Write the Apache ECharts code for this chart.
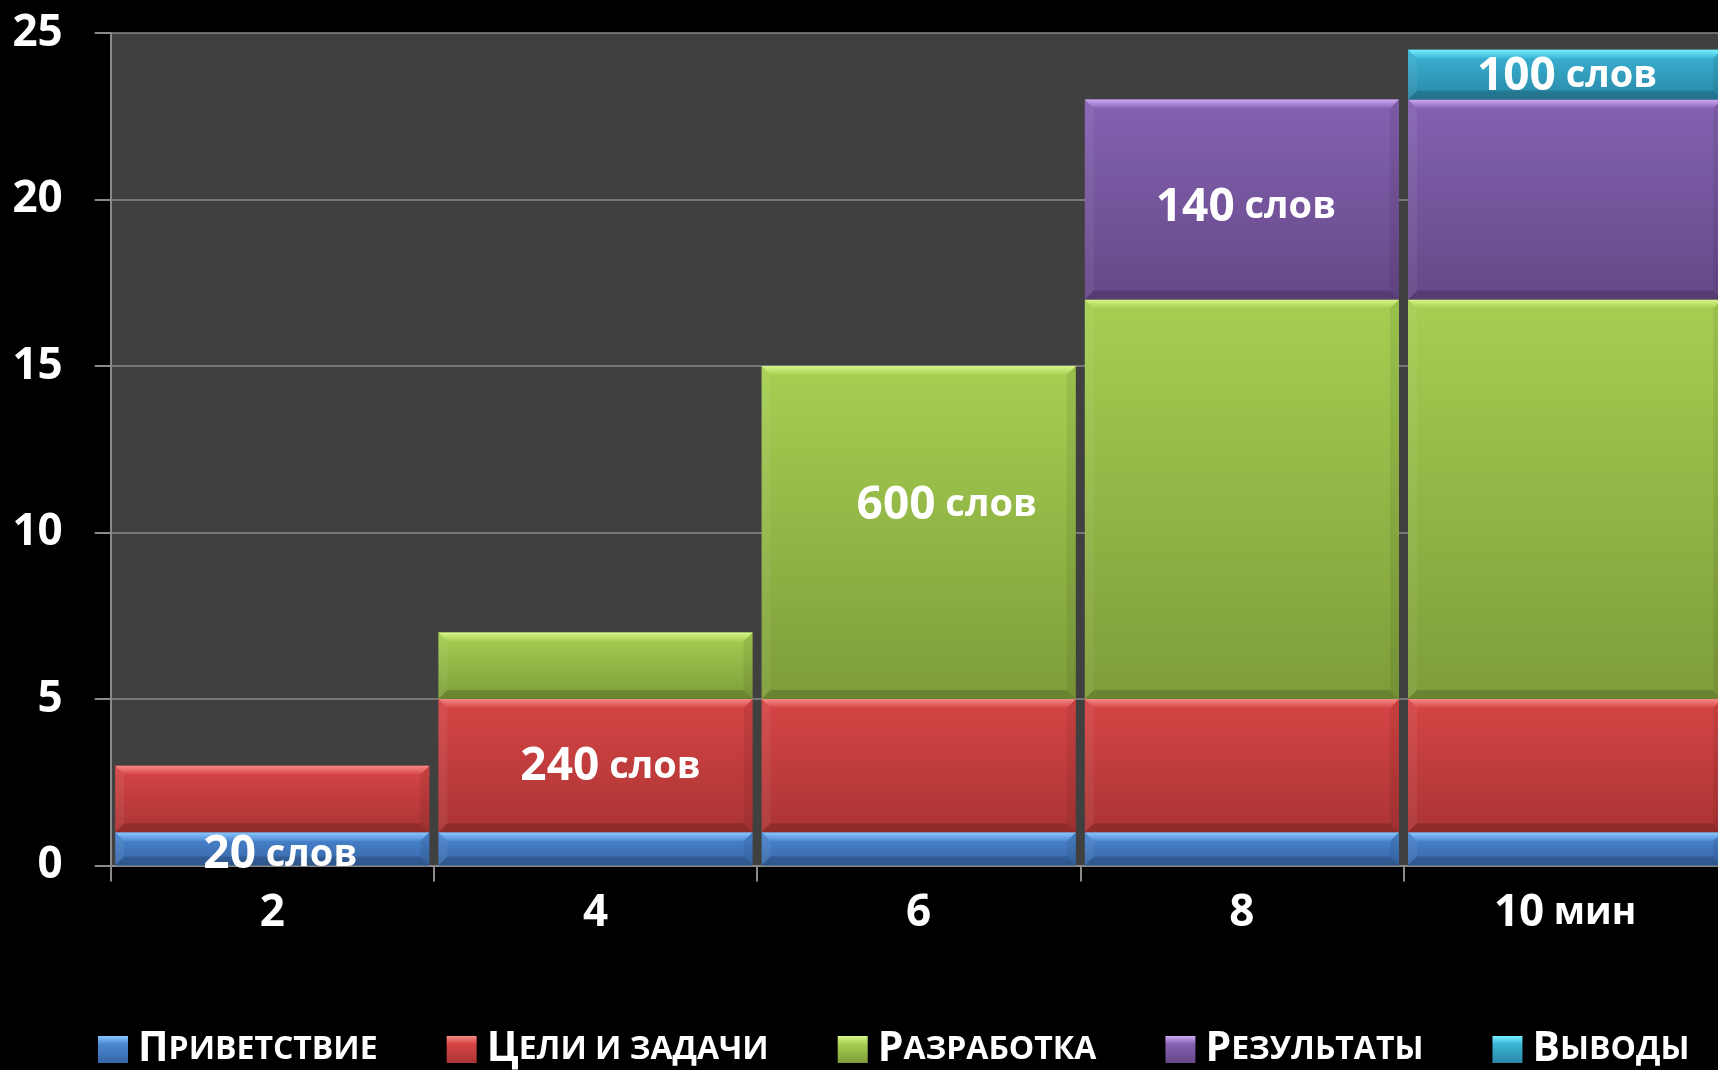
<!DOCTYPE html>
<html><head><meta charset="utf-8">
<script src="https://cdn.jsdelivr.net/npm/echarts@6/dist/echarts.min.js"></script>
<style>html,body{margin:0;padding:0;background:#000}#c{width:1718px;height:1070px}</style>
</head><body><div id="c"></div>
<script>
// ---- data ----
const categories = ['2', '4', '6', '8', '10 мин'];
const seriesNames = ['Приветствие', 'Цели и задачи', 'Разработка', 'Результаты', 'Выводы'];
const greeting    = [1, 1, 1, 1, 1];
const goals       = [2, 4, 4, 4, 4];
const development = [0, 2, 10, 12, 12];
const results     = [0, 0, 0, 6, 6];
const conclusions = [0, 0, 0, 0, 1.5];
const greetingLabels    = ['20 слов', '', '', '', ''];
const goalsLabels       = ['', '240 слов', '', '', ''];
const developmentLabels = ['', '', '600 слов', '', ''];
const resultsLabels     = ['', '', '', '140 слов', ''];
const conclusionsLabels = ['', '', '', '', '100 слов'];
const yMin = 0, yMax = 25, yInterval = 5;

// ---- styles ----
const FONT = '"Open Sans", "Noto Sans", sans-serif';
const palettes = [
  {hi: '#8cc8ff', mid: '#4b87d2', low: '#3766a6'},
  {hi: '#f58a86', mid: '#d64545', low: '#ab3434'},
  {hi: '#d8f58a', mid: '#a6cf52', low: '#7e9d3a'},
  {hi: '#cfa8f5', mid: '#8562b2', low: '#654887'},
  {hi: '#78f0ff', mid: '#3bb4d6', low: '#2a88a6'}
];
// label offsets (px) relative to segment centre
const labelOffsets = {
  '20 слов': [8, 6], '240 слов': [15, 1], '600 слов': [28, -27],
  '140 слов': [4, 8], '100 слов': [2, 2]
};
const labelRich = {
  n: {fontFamily: FONT, fontWeight: 'bold', fontSize: 46, color: '#fff'},
  w: {fontFamily: FONT, fontWeight: 'bold', fontSize: 38, color: '#fff'}
};

const valueSets = [greeting, goals, development, results, conclusions];
const labelSets = [greetingLabels, goalsLabels, developmentLabels, resultsLabels, conclusionsLabels];

// cumulative stacking from the data arrays
const cum = categories.map(() => 0);
const stackedData = valueSets.map(vals => vals.map((v, i) => {
  const b = cum[i]; cum[i] += v; return [i, b, b + v];
}));

function makeRender(pal, labels) {
  return function (params, api) {
    const idx = api.value(0), base = api.value(1), top = api.value(2);
    if (!(top > base)) return null;
    const pb = api.coord([idx, base]), pt = api.coord([idx, top]);
    const band = api.size([1, 0])[0];
    const w = band - 9;
    const x0 = pb[0] - w / 2, x1 = pb[0] + w / 2, yt = pt[1], yb = pb[1];
    const h = yb - yt;
    const b = Math.min(9, h / 3.5);
    const children = [
      {type: 'rect', shape: {x: x0, y: yt, width: w, height: h},
        style: {fill: new echarts.graphic.LinearGradient(0, 0, 0, 1, [{offset: 0, color: pal.mid}, {offset: 1, color: pal.low}])}},
      {type: 'polygon', shape: {points: [[x0, yt], [x1, yt], [x1 - b, yt + b], [x0 + b, yt + b]]},
        style: {fill: new echarts.graphic.LinearGradient(0, 0, 0, 1, [{offset: 0, color: pal.hi}, {offset: 1, color: pal.mid}])}},
      {type: 'polygon', shape: {points: [[x0, yt], [x0 + b, yt + b], [x0 + b, yb - b], [x0, yb]]},
        style: {fill: 'rgba(255,255,255,0.06)'}},
      {type: 'polygon', shape: {points: [[x1, yt], [x1, yb], [x1 - b, yb - b], [x1 - b, yt + b]]},
        style: {fill: 'rgba(0,0,0,0.07)'}},
      {type: 'polygon', shape: {points: [[x0, yb], [x0 + b, yb - b], [x1 - b, yb - b], [x1, yb]]},
        style: {fill: 'rgba(0,0,0,0.16)'}}
    ];
    const txt = labels[params.dataIndex];
    if (txt) {
      const parts = txt.split(' ');
      const off = labelOffsets[txt] || [0, 0];
      children.push({
        type: 'text', z2: 100,
        x: pb[0] + off[0], y: (yt + yb) / 2 + off[1],
        style: {text: '{n|' + parts[0] + '}{w| ' + parts[1] + '}', rich: labelRich,
          fill: '#fff', align: 'center', verticalAlign: 'middle',
          fontFamily: FONT, fontWeight: 'bold', fontSize: 38}
      });
    }
    return {type: 'group', children};
  };
}

const series = seriesNames.map((name, s) => ({
  type: 'custom', name,
  renderItem: makeRender(palettes[s], labelSets[s]),
  encode: {x: 0, y: [1, 2]},
  clip: false,
  z: 2 + s,
  itemStyle: {color: new echarts.graphic.LinearGradient(0, 0, 0, 1, [
    {offset: 0, color: palettes[s].hi}, {offset: 0.3, color: palettes[s].mid}, {offset: 1, color: palettes[s].low}])},
  data: stackedData[s]
}));

const chart = echarts.init(document.getElementById('c'), null, {renderer: 'canvas'});
chart.setOption({
  backgroundColor: '#000',
  animation: false,
  grid: {left: 110.7, top: 33, right: -8.7, bottom: 204.4, show: true,
    backgroundColor: '#404040', borderWidth: 0, outerBoundsMode: 'none', containLabel: false},
  xAxis: {
    type: 'category', data: categories,
    axisLine: {show: true, lineStyle: {color: '#8a8a8a', width: 2}},
    axisTick: {show: true, length: 16, lineStyle: {color: '#8a8a8a', width: 2}},
    axisLabel: {
      margin: 26, color: '#fff',
      formatter: v => { const p = v.split(' '); return p.length > 1 ? '{n|' + p[0] + '}{w| ' + p[1] + '}' : '{n|' + v + '}'; },
      rich: {
        n: {fontFamily: FONT, fontWeight: 'bold', fontSize: 44, color: '#fff', lineHeight: 44},
        w: {fontFamily: FONT, fontWeight: 'bold', fontSize: 37, color: '#fff', lineHeight: 44}
      }
    }
  },
  yAxis: {
    type: 'value', min: yMin, max: yMax, interval: yInterval,
    axisLine: {show: true, lineStyle: {color: '#8a8a8a', width: 2}},
    axisTick: {show: true, length: 16, lineStyle: {color: '#8a8a8a', width: 2}},
    splitLine: {show: true, lineStyle: {color: '#8a8a8a', width: 1.5}},
    axisLabel: {margin: 48, color: '#fff', fontFamily: FONT, fontWeight: 'bold', fontSize: 44}
  },
  legend: {
    data: seriesNames, left: 93, top: 1024, width: 1640, itemWidth: 30, itemHeight: 27, itemGap: 69, icon: 'rect',
    formatter: n => '{a|' + n[0] + '}{b|' + n.slice(1).toUpperCase() + '}',
    textStyle: {color: '#fff', padding: [0, 0, 0, 5],
      rich: {
        a: {fontFamily: FONT, fontWeight: 'bold', fontSize: 41, color: '#fff', lineHeight: 44},
        b: {fontFamily: FONT, fontWeight: 'bold', fontSize: 32, color: '#fff', lineHeight: 44}
      }}
  },
  series
});
</script></body></html>
